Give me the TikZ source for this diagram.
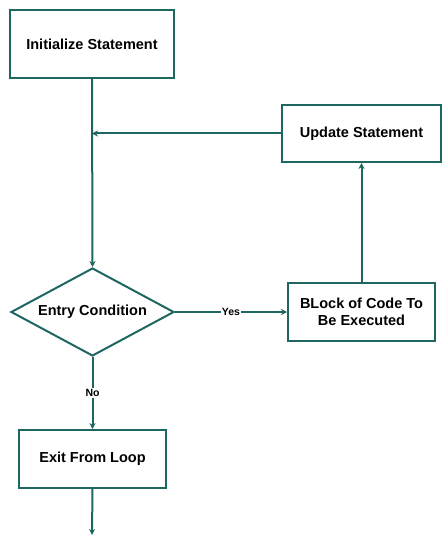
\documentclass[tikz,border=0pt]{standalone}
\usepackage{fontspec}
\setmainfont{Liberation Sans}
\usetikzlibrary{shapes.geometric,arrows.meta}

\begin{document}
\begin{tikzpicture}[x=1pt,y=-1pt]

    % Define colors
    \definecolor{flowteal}{RGB}{30,102,96}

    \tikzset{
        flowbox/.style={draw=flowteal, line width=2pt, fill=white, font=\fontsize{14.5}{17.5}\selectfont\bfseries, align=center, inner sep=0pt},
        flowdiamond/.style={draw=flowteal, line width=2pt, fill=white, diamond, aspect=1.85, font=\fontsize{14.5}{17.5}\selectfont\bfseries, inner sep=0pt, minimum width=163pt, minimum height=88pt},
        flowline/.style={draw=flowteal, line width=2pt, -{Stealth[length=6pt,width=6pt]}},
        flowlabel/.style={fill=white, inner sep=1pt, font=\fontsize{10.5}{12}\selectfont\bfseries}
    }

    \useasboundingbox (0,0) rectangle (446,545);

    \node[flowbox, minimum width=164pt, minimum height=68pt] (init) at (92,44) {Initialize Statement};
    \node[flowbox, minimum width=159pt, minimum height=57pt] (update) at (361.5,133.5) {Update Statement};
    \node[flowdiamond] (entry) at (92.5,312) {Entry Condition};
    \node[flowbox, minimum width=147pt, minimum height=58pt] (block) at (361.5,312) {BLock of Code To\\Be Executed};
    \node[flowbox, minimum width=147pt, minimum height=58pt] (exit) at (92.5,459) {Exit From Loop};

    \coordinate (join) at (92,133.5);
    \coordinate (out) at (92,535);

    \draw[flowline] (init.south) -- (entry.north);
    \draw[flowline] (update.west) -- (join);
    \draw[flowline] (block.north) -- (update.south);
    \draw[flowline] (entry.east) -- node[flowlabel, pos=0.5] {Yes} (block.west);
    \draw[flowline] (entry.south) -- node[flowlabel, pos=0.5] {No} (exit.north);
    \draw[flowline] (exit.south) -- (out);

\end{tikzpicture}
\end{document}
